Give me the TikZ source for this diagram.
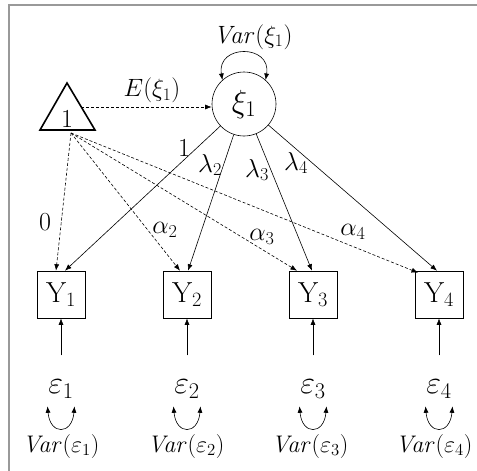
\RequirePackage{fix-cm}
\documentclass[tikz,border=0pt]{standalone}
\usetikzlibrary{arrows.meta,calc}
\begin{document}
\begin{tikzpicture}[x=1pt,y=-1pt,
  lbl/.style={font=\fontsize{25}{27}\selectfont, inner sep=0pt},
  vlbl/.style={font=\fontsize{24}{26}\selectfont, inner sep=0pt},
  plbl/.style={font=\fontsize{26}{28}\selectfont, inner sep=0pt},
  elbl/.style={font=\fontsize{32}{34}\selectfont, inner sep=0pt},
  obs/.style={draw, line width=0.6pt, minimum width=48pt, minimum height=47pt, inner sep=0pt, font=\fontsize{29}{31}\selectfont},
  lat/.style={draw, line width=0.6pt, circle, minimum size=64pt, inner sep=0pt, font=\fontsize{32}{34}\selectfont},
  tip/.tip={Latex[length=6.5pt,width=5pt]},
  arr/.style={-tip, line width=0.6pt},
  darr/.style={-tip, line width=0.6pt, dash pattern=on 3pt off 2pt},
  dbl/.style={tip-tip, line width=0.6pt},
  frame/.style={draw=black!40, line width=1.5pt}
]
\useasboundingbox (0,0) rectangle (477,471);
\draw[frame] (477,5) -- (9,5) -- (9,471);

% constant (triangle)
\coordinate (tA) at (67,83);
\coordinate (tL) at (40,130);
\coordinate (tR) at (95,130);
\draw[line width=1.6pt, line join=miter] (tL) -- (tA) -- (tR) -- cycle;
\node[plbl] (one) at (67,119) {1};
\coordinate (tb) at (71,133);
\coordinate (te) at (81,107);

% latent
\node[lat] (xi) at (244,104) {$\xi_1$};
\node[lbl] (vx) at (253,37) {$\mathit{Var}(\xi_1)$};
\draw[dbl] (xi.132) .. controls ($(xi.132)+(-6,-36)$) and ($(xi.48)+(6,-36)$) .. (xi.48);
\draw[darr] (te) -- (te -| xi.west);
\node[lbl] (E) at (152,90) {$E(\xi_1)$};

% observed
\foreach \i/\x/\vx in {1/61/61,2/187/186,3/313/310,4/439/434}{
  \node[obs] (Y\i) at (\x,294.5) {$\mathrm{Y}_{\i}$};
  \node[elbl] (e\i) at (\x,389) {$\varepsilon_{\i}$};
  \node[vlbl] (v\i) at (\vx,446) {$\mathit{Var}(\varepsilon_{\i})$};
  \draw[arr] ($(Y\i.south)+(0,37)$) -- (Y\i.south);
  \draw[dbl] ($(Y\i.south)+(-13.5,88)$) .. controls ($(Y\i.south)+(-11,117)$) and ($(Y\i.south)+(11,117)$) .. ($(Y\i.south)+(13.5,88)$);
}

% loadings
\draw[arr] (xi) -- ([xshift=4pt]Y1.north);
\draw[arr] (xi) -- ([xshift=1pt]Y2.north);
\draw[arr] (xi) -- ([xshift=-1pt]Y3.north);
\draw[arr] (xi) -- ([xshift=-2pt]Y4.north);

% intercepts
\draw[darr] (tb) -- ([xshift=-5pt]Y1.north);
\draw[darr] (tb) -- ([xshift=-7pt]Y2.north);
\draw[darr] (tb) -- ([xshift=-16pt]Y3.north);
\draw[darr] (tb) -- ([xshift=-21pt,yshift=-2pt]Y4.north);

% labels
\node[plbl] (l1) at (184,148) {1};
\node[plbl] (l2) at (210,165) {$\lambda_2$};
\node[plbl] (l3) at (257,170) {$\lambda_3$};
\node[plbl] (l4) at (296,163) {$\lambda_4$};
\node[plbl] (a1) at (45,222) {0};
\node[plbl] (a2) at (165,230) {$\alpha_2$};
\node[plbl] (a3) at (262,237) {$\alpha_3$};
\node[plbl] (a4) at (353,232) {$\alpha_4$};
\end{tikzpicture}
\end{document}
